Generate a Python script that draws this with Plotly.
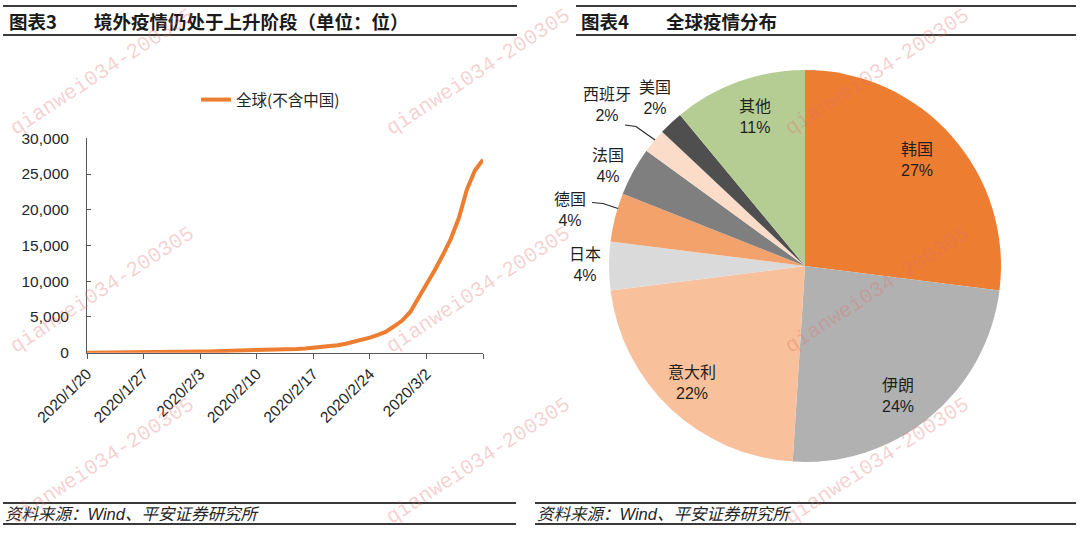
import pandas as pd
import plotly.graph_objects as go

W, H = 1080, 533

# ---------------- data ----------------
start_date = "2020-01-20"
cases = [
    4, 6, 9, 14, 20, 30, 40, 55, 70, 80, 100, 120,            # Jan 20-31
    135, 150, 160, 180, 200, 220, 260, 290, 310, 330,          # Feb 1-10
    360, 400, 450, 500, 530, 600, 700, 800, 900, 1050,         # Feb 11-20
    1250, 1500, 1800, 2100, 2500, 2950, 3700, 4500, 5700,      # Feb 21-29
    7600, 9600, 11500, 13600, 15900, 18800, 22800, 25500, 27000,  # Mar 1-9
]
dates = pd.date_range(start_date, periods=len(cases), freq="D")
series_name = "全球(不含中国)"

x_tick_dates = ["2020-01-20", "2020-01-27", "2020-02-03", "2020-02-10",
                "2020-02-17", "2020-02-24", "2020-03-02", "2020-03-09"]
x_tick_text = ["2020/1/20", "2020/1/27", "2020/2/3", "2020/2/10",
               "2020/2/17", "2020/2/24", "2020/3/2", ""]
y_ticks = [0, 5000, 10000, 15000, 20000, 25000, 30000]

pie_labels = ["韩国", "伊朗", "意大利", "日本", "德国", "法国", "西班牙", "美国", "其他"]
pie_values = [27, 24, 22, 4, 4, 4, 2, 2, 11]
pie_colors = ["#ED7D31", "#B1B1B1", "#F8C19B", "#DADADA", "#F3A26B",
              "#7F7F7F", "#FADCC8", "#4F4F4F", "#B5CD93"]

# label centre positions (pixels) for pie labels
pie_label_pos = {
    "韩国": (917, 160), "伊朗": (898, 396), "意大利": (692, 382),
    "日本": (585, 265), "德国": (570, 210), "法国": (608, 166),
    "西班牙": (607, 105), "美国": (655, 98), "其他": (755, 117),
}


def px(x, y):
    return x / W, 1 - y / H


FONT = "Liberation Sans, Arial, Noto Sans CJK SC, sans-serif"
CJK = "Noto Sans CJK SC, Liberation Sans, sans-serif"

fig = go.Figure()

fig.add_trace(go.Scatter(
    x=dates, y=cases, mode="lines", name=series_name,
    line=dict(color="#ED7D31", width=4),
    xaxis="x", yaxis="y", showlegend=True,
))

x0p, _ = px(87, 0)
x1p, _ = px(483, 0)
_, y0p = px(0, 352.7)
_, y1p = px(0, 138.3)

pxl, pxr = 805 - 196, 805 + 196
pyt, pyb = 266 - 196, 266 + 196
fig.add_trace(go.Pie(
    labels=pie_labels, values=pie_values, sort=False, direction="clockwise",
    rotation=0, marker=dict(colors=pie_colors, line=dict(width=0)),
    textinfo="none", hoverinfo="label+percent", showlegend=False,
    domain=dict(x=[pxl / W, pxr / W], y=[1 - pyb / H, 1 - pyt / H]),
))

fig.update_layout(
    width=W, height=H, autosize=False,
    margin=dict(l=0, r=0, t=0, b=0, pad=0, autoexpand=False),
    paper_bgcolor="white", plot_bgcolor="white",
    font=dict(family=FONT, size=15, color="#262626"),
    xaxis=dict(
        domain=[x0p, x1p], type="date",
        range=["2020-01-20", "2020-03-09"],
        tickvals=x_tick_dates, ticktext=x_tick_text, tickangle=-45,
        ticks="outside", ticklen=5, tickcolor="#595959",
        showline=True, linecolor="#595959", linewidth=1,
        showgrid=False, zeroline=False, anchor="y", automargin=False,
        tickfont=dict(size=15.5, color="#262626"),
    ),
    yaxis=dict(
        domain=[y0p, y1p], range=[0, 30000],
        tickvals=y_ticks, tickformat=",",
        ticks="inside", ticklen=4, tickcolor="#595959",
        showline=True, linecolor="#595959", linewidth=1,
        showgrid=False, zeroline=False, anchor="x", automargin=False,
        tickfont=dict(size=15.5, color="#262626"),
        ticklabelstandoff=14,
    ),
    legend=dict(
        x=196 / W, y=1 - 100 / H, xanchor="left", yanchor="middle",
        font=dict(size=15.5, family=CJK, color="#262626"),
        bgcolor="rgba(0,0,0,0)",
    ),
)

shapes = []
annotations = []

# title / footer rules
def hline(xa, xb, y, w=1.8, color="#3A3A3A"):
    xa_p, yp = px(xa, y)
    xb_p, _ = px(xb, y)
    shapes.append(dict(type="line", xref="paper", yref="paper",
                       x0=xa_p, x1=xb_p, y0=yp, y1=yp,
                       line=dict(color=color, width=w)))

for (a, b) in [(3, 517), (576, 1076)]:
    hline(a, b, 6)
    hline(a, b, 35)
for (a, b) in [(3, 516), (535, 1076)]:
    hline(a, b, 503)
    hline(a, b, 524)

def text(x, y, s, size=15, family=FONT, color="#262626", xanchor="center",
         yanchor="middle", angle=0, bold=False):
    xp, yp = px(x, y)
    annotations.append(dict(
        x=xp, y=yp, xref="paper", yref="paper", text=s, showarrow=False,
        xanchor=xanchor, yanchor=yanchor, textangle=angle,
        font=dict(size=size, family=family, color=color,
                  weight="bold" if bold else "normal"),
    ))

text(7, 21, "图表3", size=18.5, family=CJK, color="#1a1a1a", xanchor="left", bold=True)
text(92, 21, "境外疫情仍处于上升阶段（单位：位）", size=18.5, family=CJK,
     color="#1a1a1a", xanchor="left", bold=True)
text(579, 21, "图表4", size=18.5, family=CJK, color="#1a1a1a", xanchor="left", bold=True)
text(664, 21, "全球疫情分布", size=18.5, family=CJK, color="#1a1a1a",
     xanchor="left", bold=True)

src = "<i>资料来源：Wind、平安证券研究所</i>"
text(3, 514, src, size=16.5, family=FONT, color="#262626", xanchor="left")
text(535, 514, src, size=16.5, family=FONT, color="#262626", xanchor="left")

# pie labels (text derived from data)
total = sum(pie_values)
for lab, val in zip(pie_labels, pie_values):
    x, y = pie_label_pos[lab]
    pct = round(val / total * 100)
    text(x, y, f"{lab}<br>{pct}%", size=16, family=FONT, color="#1f1f1f")

# leader lines
def path(points, color="#262626", w=1.2):
    d = ""
    for i, (x, y) in enumerate(points):
        xp, yp = px(x, y)
        d += ("M" if i == 0 else "L") + f"{xp},{yp} "
    shapes.append(dict(type="path", xref="paper", yref="paper", path=d.strip(),
                       line=dict(color=color, width=w)))

path([(625, 125), (636, 126.5), (655, 140)])
path([(592, 202.5), (603, 203.5), (618, 208.5)])

# watermarks (kept fully inside the canvas)
wm = "qianwei034-200305"
for cx in (102, 478, 877):
    for cy in (72, 290, 461):
        text(cx, cy, wm, size=21, family="Liberation Mono, monospace",
             color="rgba(225,110,110,0.33)", angle=-33)

fig.update_layout(shapes=shapes, annotations=annotations)

fig.write_html(
    "out.html",
    config={"displayModeBar": False},
    post_script="document.body.style.margin='0';document.body.style.overflow='hidden';",
)
